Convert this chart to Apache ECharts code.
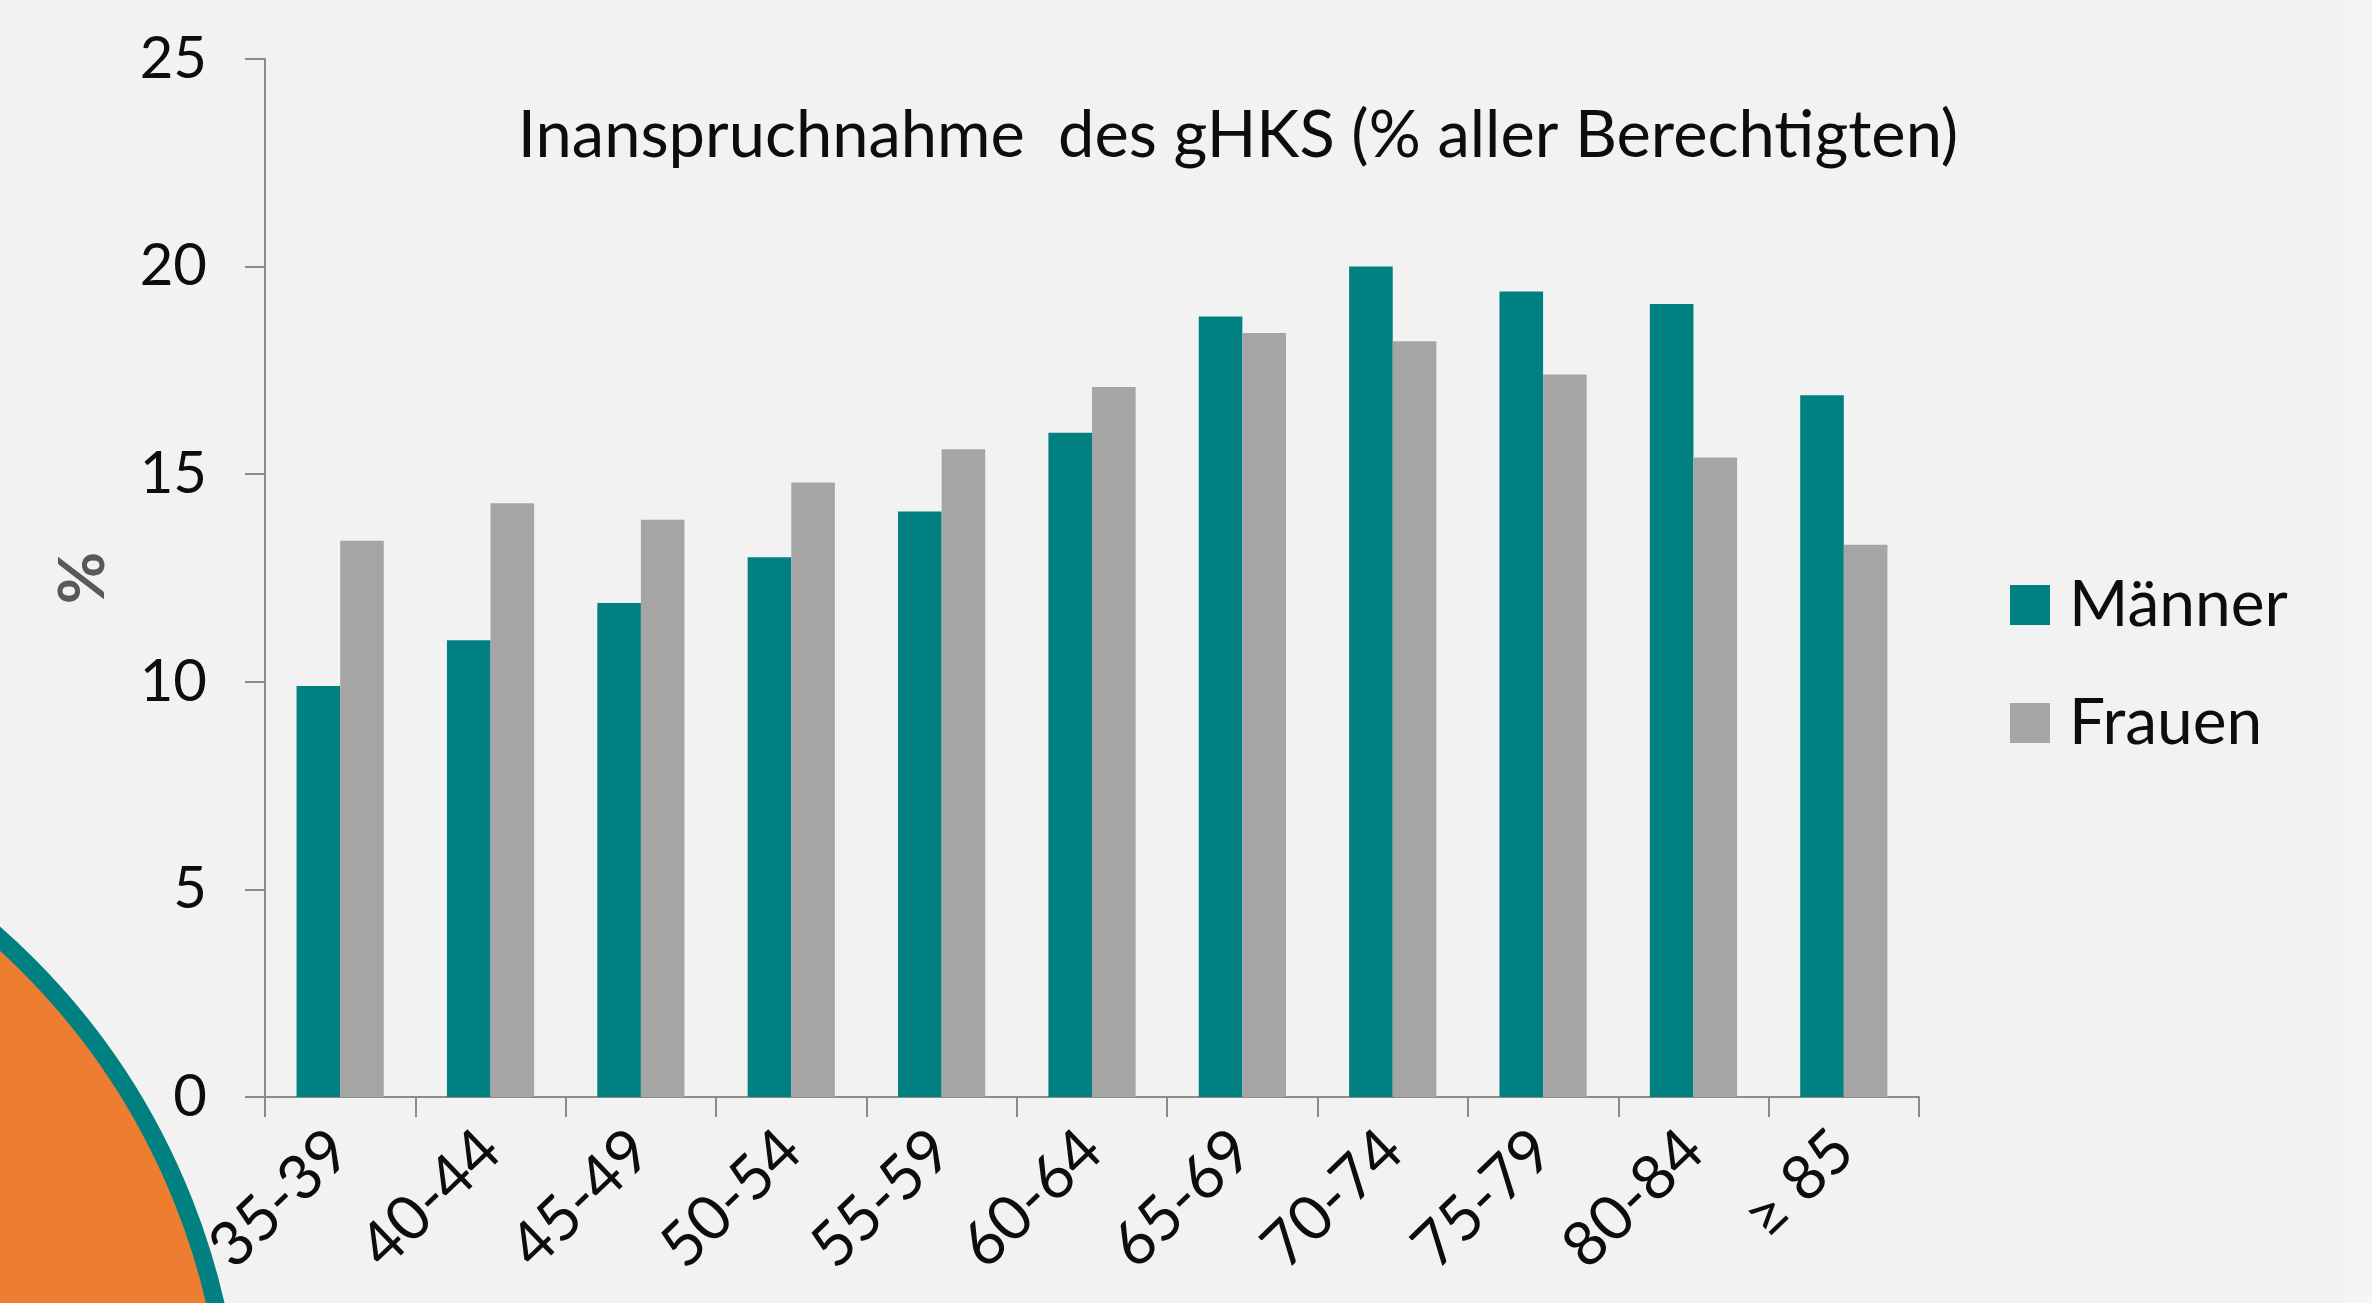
<!DOCTYPE html>
<html>
<head>
<meta charset="utf-8">
<script src="https://cdn.jsdelivr.net/npm/echarts@6/dist/echarts.min.js"></script>
<style>
    html, body { margin: 0; padding: 0; background: #f2f2f2; }
    #chart { width: 2372px; height: 1303px; }
</style>
</head>
<body>
<div id="chart"></div>
<script>
// Altersgruppen
var categories = ['35-39', '40-44', '45-49', '50-54', '55-59', '60-64', '65-69', '70-74', '75-79', '80-84', '≥ 85']
// Inanspruchnahme in % aller Berechtigten
var maenner = [9.9, 11.0, 11.9, 13.0, 14.1, 16.0, 18.8, 20.0, 19.4, 19.1, 16.9]
var frauen = [13.4, 14.3, 13.9, 14.8, 15.6, 17.1, 18.4, 18.2, 17.4, 15.4, 13.3]
var yTicks = [0, 5, 10, 15, 20, 25]

var font = 'Lato, "Open Sans", sans-serif'
var axisColor = '#8c8c8c'

var chart = echarts.init(document.getElementById('chart'))

var options = {
    backgroundColor: '#f2f2f2',
    color: ['#008080', '#a5a5a5'],
    textStyle: { fontFamily: font },
    title: {
        text: 'Inanspruchnahme  des gHKS (% aller Berechtigten)',
        left: 1233,
        textAlign: 'center',
        top: 99,
        textStyle: { fontFamily: font, fontSize: 65, fontWeight: 'normal', color: '#0d0d0d' }
    },
    legend: {
        orient: 'vertical',
        left: 2005,
        top: 568,
        icon: 'rect',
        itemWidth: 40,
        itemHeight: 40,
        itemGap: 54,
        textStyle: { fontFamily: font, fontSize: 64, color: '#0d0d0d', padding: [0, 0, 0, 14] },
        data: ['Männer', 'Frauen']
    },
    grid: {
        left: 265,
        right: 453,
        top: 59,
        bottom: 206,
        containLabel: false,
        outerBoundsMode: 'none'
    },
    xAxis: {
        type: 'category',
        data: categories,
        axisLine: { show: true, lineStyle: { color: axisColor, width: 2 } },
        axisTick: { show: true, length: 20, alignWithLabel: false, interval: 0, lineStyle: { color: axisColor, width: 2 } },
        axisLabel: { interval: 0, rotate: 44, margin: 44, fontSize: 62, color: '#0d0d0d', fontFamily: font }
    },
    yAxis: {
        type: 'value',
        min: yTicks[0],
        max: yTicks[yTicks.length - 1],
        interval: yTicks[1] - yTicks[0],
        name: '%',
        nameLocation: 'middle',
        nameGap: 150,
        nameTextStyle: { fontFamily: font, fontSize: 64, fontWeight: 'bold', color: '#595959' },
        axisLine: { show: true, lineStyle: { color: axisColor, width: 2 } },
        axisTick: { show: true, length: 20, lineStyle: { color: axisColor, width: 2 } },
        axisLabel: { margin: 58, fontSize: 58, color: '#0d0d0d', fontFamily: font },
        splitLine: { show: false }
    },
    graphic: [
        {
            // heller Randstreifen rechts
            type: 'rect',
            z: -10,
            shape: { x: 2343, y: 0, width: 29, height: 1303 },
            style: { fill: '#f5f5f5' }
        },
        {
            // Folien-Deko unten links
            type: 'circle',
            z: 0,
            shape: { cx: -467, cy: 1460, r: 700 },
            style: { fill: '#ed7d31', stroke: '#008080', lineWidth: 18 }
        }
    ],
    series: [
        {
            name: 'Männer',
            type: 'bar',
            data: maenner,
            barGap: '0%',
            barCategoryGap: '42%'
        },
        {
            name: 'Frauen',
            type: 'bar',
            data: frauen,
            barGap: '0%',
            barCategoryGap: '42%'
        }
    ]
}
chart.setOption(options)
</script>
</body>
</html>
